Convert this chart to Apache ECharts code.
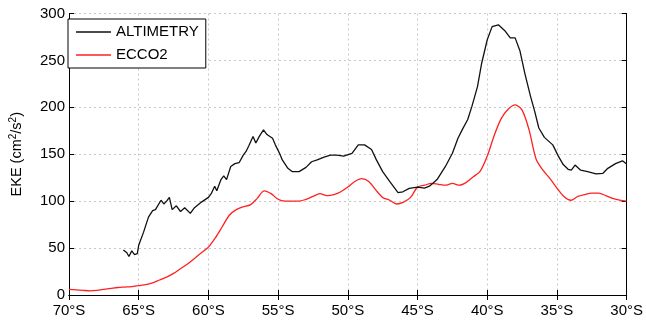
<!DOCTYPE html>
<html>
<head>
<meta charset="utf-8">
<script src="https://cdn.jsdelivr.net/npm/echarts@6/dist/echarts.min.js"></script>
<style>
html,body{margin:0;padding:0;background:#fff;}
#c{width:646px;height:323px;}
</style>
</head>
<body>
<div id="c"></div>
<script>
const xTicks = [-70, -65, -60, -55, -50, -45, -40, -35, -30];
const yTicks = [0, 50, 100, 150, 200, 250, 300];

const altLat = [-66.1,-65.85,-65.7,-65.5,-65.3,-65.1,-65.0,-64.65,-64.3,-64.0,-63.8,-63.4,-63.2,-63.0,-62.8,-62.6,-62.3,-62.0,-61.7,-61.3,-61.0,-60.5,-60.0,-59.8,-59.55,-59.4,-59.1,-58.9,-58.7,-58.4,-58.1,-57.8,-57.5,-57.3,-57.1,-56.8,-56.6,-56.35,-56.05,-55.8,-55.4,-55.2,-54.9,-54.7,-54.3,-54.0,-53.5,-53.0,-52.6,-52.2,-51.7,-51.25,-50.8,-50.3,-49.7,-49.25,-48.8,-48.3,-47.95,-47.5,-47.0,-46.4,-46.05,-45.6,-45.0,-44.5,-44.15,-43.9,-43.6,-43.0,-42.5,-42.1,-41.8,-41.4,-41.1,-40.7,-40.4,-40.0,-39.65,-39.2,-38.7,-38.35,-38.0,-37.65,-37.3,-36.9,-36.6,-36.3,-35.9,-35.3,-34.9,-34.55,-34.2,-33.97,-33.7,-33.3,-32.8,-32.2,-31.7,-31.35,-30.8,-30.3,-30.0];
const altVal = [48,45,41,47,43,44,53,67,83,90,91,101,97,100,104,91,95,89,93,87,93,99,104,108,116,111,123,127,123,137,140,141,149,153,159,169,162,169,176,171,167,160,151,144,135,131.5,131.5,136,142,144,147,149,149,148,151,160,160,155,144,131.5,121,109,110,113.7,115,114,116,119,123,137,151,167,176,187,201,222,247,272,286,288,281,274,274,260,236,212,196,178,168,160,148,139,134,133,138.5,133,131.5,129,129.7,135,140,143,139.5];

const eccoLat = [-70,-69.5,-69,-68.5,-68,-67.5,-67,-66.5,-66,-65.5,-65,-64.5,-64,-63.5,-63,-62.5,-62,-61.5,-61,-60.5,-60,-59.5,-59,-58.5,-58,-57.5,-57,-56.5,-56,-55.5,-55,-54.5,-54,-53.5,-53,-52.5,-52,-51.5,-51,-50.5,-50,-49.5,-49,-48.5,-48,-47.5,-47,-46.5,-46,-45.5,-45,-44.5,-44,-43.5,-43,-42.5,-42,-41.5,-41,-40.5,-40,-39.5,-39,-38.5,-38,-37.5,-37,-36.5,-36,-35.5,-35,-34.5,-34,-33.5,-33,-32.5,-32,-31.5,-31,-30.5,-30];
const eccoVal = [6,5.5,5,4.5,5,6,7,8,8.5,9,10,11,13,16,19,23,28,33,39,45,51,61,73,85,91,94,96,103,111,108,102,100,100,100,102,105,108,106,107,110,115,121,124,121,112,104,101,97,99,104,115,117,119,118,117,119,117,120,126,132,148,170,188,198,202.6,197,176,145,133,124,114,105,101,105,107,108.5,108.5,106,103,101,100];

const seriesNames = ['ALTIMETRY', 'ECCO2'];
const FONT = "'Liberation Sans', Arial, Helvetica, sans-serif";

const zip = (a, b) => a.map((v, i) => [v, b[i]]);

const chart = echarts.init(document.getElementById('c'), null, {renderer: 'canvas'});
const axisLine = {show: true, lineStyle: {color: '#000', width: 1}};
const tick = {show: true, inside: true, length: 5, lineStyle: {color: '#000', width: 1}};
const split = {show: true, lineStyle: {color: '#c8c8c8', width: 1, type: [2, 3]}};

chart.setOption({
  animation: false,
  backgroundColor: '#fff',
  textStyle: {fontFamily: FONT},
  grid: {left: 63, right: 18, top: 13.5, bottom: 28, containLabel: false},
  legend: {
    orient: 'vertical',
    left: 68, top: 19,
    padding: [5, 7, 5, 8],
    itemGap: 7,
    itemWidth: 35,
    itemHeight: 1.4,
    icon: 'rect',
    borderColor: '#000', borderWidth: 1,
    backgroundColor: '#fff',
    textStyle: {fontSize: 15, lineHeight: 16, color: '#000', fontFamily: FONT},
    data: seriesNames
  },
  xAxis: [
    {
      type: 'value', min: xTicks[0], max: xTicks[xTicks.length - 1], interval: 5, position: 'bottom',
      axisLine: axisLine, axisTick: tick, splitLine: split,
      axisLabel: {color: '#000', fontSize: 15, margin: 8, fontFamily: FONT,
        formatter: v => Math.abs(v) + '°S'}
    },
    {
      type: 'value', min: xTicks[0], max: xTicks[xTicks.length - 1], interval: 5, position: 'top',
      axisLine: axisLine, axisTick: tick, splitLine: {show: false}, axisLabel: {show: false}
    }
  ],
  yAxis: [
    {
      type: 'value', min: yTicks[0], max: yTicks[yTicks.length - 1], interval: 50, position: 'left',
      axisLine: axisLine, axisTick: tick, splitLine: split,
      axisLabel: {color: '#000', fontSize: 15, margin: 4, fontFamily: FONT},
      name: 'EKE (cm{sup|2}/s{sup|2})',
      nameLocation: 'middle', nameGap: 44, nameRotate: 90,
      nameTextStyle: {color: '#000', fontSize: 14.5, fontFamily: FONT,
        rich: {sup: {fontSize: 10, verticalAlign: 'top', padding: [0, 0, 7, 0], fontFamily: FONT, color: '#000'}}}
    },
    {
      type: 'value', min: yTicks[0], max: yTicks[yTicks.length - 1], interval: 50, position: 'right',
      axisLine: axisLine, axisTick: tick, splitLine: {show: false}, axisLabel: {show: false}
    }
  ],
  series: [
    {
      name: seriesNames[0], type: 'line', symbol: 'none', smooth: false,
      data: zip(altLat, altVal),
      lineStyle: {color: '#111', width: 1.3}, itemStyle: {color: '#111'}, z: 3
    },
    {
      name: seriesNames[1], type: 'line', symbol: 'none', smooth: 0.3,
      data: zip(eccoLat, eccoVal),
      lineStyle: {color: '#ff2020', width: 1.3}, itemStyle: {color: '#ff2020'}, z: 2
    }
  ]
});
</script>
</body>
</html>
